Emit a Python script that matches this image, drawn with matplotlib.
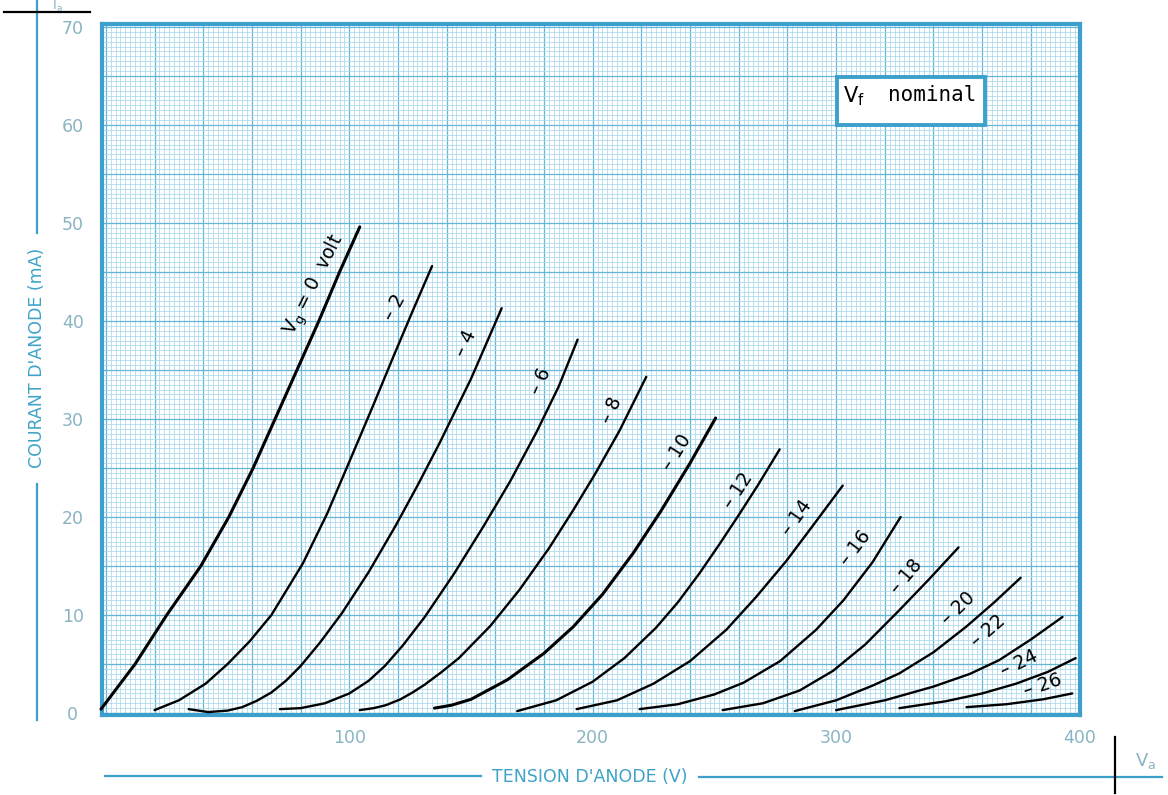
import matplotlib
matplotlib.use("Agg")
import matplotlib.pyplot as plt
from matplotlib.lines import Line2D
from matplotlib.patches import Rectangle
from matplotlib.ticker import MultipleLocator, FuncFormatter

# ---- anode characteristics: anode voltage (V) / anode current (mA) ----
grid_bias = [0, -2, -4, -6, -8, -10, -12, -14, -16, -18, -20, -22, -24, -26]

v_g0 = [-2, 12, 25, 39, 50.5, 60.5, 69.5, 78.5, 87.5, 96, 104.3]
i_g0 = [0.4, 5, 10, 15, 20, 25, 30, 35, 40, 45, 49.6]

v_g2 = [20, 30, 41, 50, 59, 68, 81, 91, 102, 110, 118, 126, 134]
i_g2 = [0.3, 1.3, 3, 5, 7.3, 10, 15.3, 20.4, 26.8, 31.5, 36.3, 41, 45.6]

v_g4 = [34, 42, 50, 56, 62, 68, 74, 80, 88, 97, 108, 119, 128, 137, 150, 162.6]
i_g4 = [0.4, 0.1, 0.25, 0.6, 1.25, 2.1, 3.3, 4.8, 7.2, 10.2, 14.4, 19.1, 23.2, 27.5, 34.1, 41.3]

v_g6 = [71.5, 80, 90, 100, 108, 114.6, 122, 131, 143, 155, 166, 177, 186, 193.8]
i_g6 = [0.4, 0.5, 1.0, 2.0, 3.3, 4.8, 6.9, 9.8, 14.2, 19, 23.6, 28.7, 33.3, 38.1]

v_g8 = [104.3, 110, 115, 121, 126, 131, 138, 145, 158, 170, 182, 192, 201, 211, 222]
i_g8 = [0.3, 0.5, 0.8, 1.4, 2.1, 2.9, 4.2, 5.6, 8.9, 12.6, 16.8, 20.7, 24.4, 28.8, 34.3]

v_g10 = [135, 142, 150, 165, 180, 192, 204, 216.6, 228, 240, 250.5]
i_g10 = [0.5, 0.8, 1.4, 3.4, 6.1, 8.8, 12.1, 16.3, 20.6, 25.5, 30.1]

v_g12 = [169, 185, 200, 213, 226, 235, 244, 252, 260, 268, 276.8]
i_g12 = [0.2, 1.3, 3.2, 5.6, 8.7, 11.3, 14.3, 17.2, 20.2, 23.3, 26.9]

v_g14 = [193.4, 210, 225, 240, 254.9, 267, 279.5, 291, 302.7]
i_g14 = [0.4, 1.3, 3, 5.3, 8.5, 11.8, 15.5, 19.3, 23.2]

v_g16 = [219.3, 235, 250, 262, 277, 291.8, 303, 315, 326.5]
i_g16 = [0.4, 0.9, 1.9, 3.1, 5.3, 8.5, 11.5, 15.4, 20]

v_g18 = [253.4, 270, 285, 298.7, 312, 326, 338, 350.3]
i_g18 = [0.3, 1.0, 2.3, 4.3, 7.0, 10.5, 13.6, 16.9]

v_g20 = [283, 300, 315, 326, 340, 353.4, 365, 375.8]
i_g20 = [0.2, 1.3, 2.8, 4.05, 6.2, 8.8, 11.3, 13.8]

v_g22 = [300, 320, 340, 355, 367, 380, 393]
i_g22 = [0.3, 1.3, 2.7, 4, 5.4, 7.5, 9.8]

v_g24 = [326, 345, 360, 374, 387, 398.4]
i_g24 = [0.5, 1.2, 2.0, 3.0, 4.2, 5.6]

v_g26 = [353.6, 370, 385, 397]
i_g26 = [0.6, 0.9, 1.4, 2.0]

curve_labels = ["V$_{\\mathrm{g}}$ = 0  volt", "\u2013 2", "\u2013 4", "\u2013 6", "\u2013 8",
                "\u2013 10", "\u2013 12", "\u2013 14", "\u2013 16", "\u2013 18",
                "\u2013 20", "\u2013 22", "\u2013 24", "\u2013 26"]

x_tick_labels = ["100", "200", "300", "400"]
y_tick_labels = ["0", "10", "20", "30", "40", "50", "60", "70"]

curves = [(v_g0, i_g0), (v_g2, i_g2), (v_g4, i_g4), (v_g6, i_g6), (v_g8, i_g8),
          (v_g10, i_g10), (v_g12, i_g12), (v_g14, i_g14), (v_g16, i_g16),
          (v_g18, i_g18), (v_g20, i_g20), (v_g22, i_g22), (v_g24, i_g24),
          (v_g26, i_g26)]

# ---- styling ----
W, H = 1168, 795
FRAME = "#3d9fcb"
GRID_MAJOR = "#62b6d8"
GRID_MINOR = "#a9d9ea"
TICK_TXT = "#8ab4c2"
TITLE_TXT = "#3fa3c9"


def fx(px):
    return px / W


def fy(py):
    return 1 - py / H


fig = plt.figure(figsize=(W / 100, H / 100), dpi=100)
fig.patch.set_facecolor("white")
ax = fig.add_axes([fx(102), fy(715), fx(1080) - fx(102), fy(24) - fy(715)])
ax.set_xlim(-1.6, 400.2)
ax.set_ylim(-0.2, 70.3)

# graph paper
ax.xaxis.set_major_locator(MultipleLocator(20))
ax.xaxis.set_minor_locator(MultipleLocator(2))
ax.yaxis.set_major_locator(MultipleLocator(5))
ax.yaxis.set_minor_locator(MultipleLocator(0.5))
ax.grid(which="minor", color=GRID_MINOR, lw=0.55, zorder=0)
ax.grid(which="major", color=GRID_MAJOR, lw=0.9, zorder=0)
ax.set_axisbelow(True)

shown_x = {int(t): t for t in x_tick_labels}
shown_y = {int(t): t for t in y_tick_labels}
ax.xaxis.set_major_formatter(FuncFormatter(lambda v, p: shown_x.get(int(round(v)), "") if abs(v - round(v)) < 1e-6 else ""))
ax.yaxis.set_major_formatter(FuncFormatter(lambda v, p: shown_y.get(int(round(v)), "") if abs(v - round(v)) < 1e-6 else ""))
ax.tick_params(which="both", length=0)
ax.tick_params(axis="x", pad=10, labelsize=12.5, labelcolor=TICK_TXT)
ax.tick_params(axis="y", pad=21, labelsize=12.5, labelcolor=TICK_TXT)
for lab in ax.get_yticklabels():
    lab.set_horizontalalignment("center")

for s in ax.spines.values():
    s.set_color(FRAME)
    s.set_linewidth(3)

# characteristic curves
for k, (v, i) in enumerate(curves):
    lw = 2.2 if grid_bias[k] in (0, -10) else 1.7
    ax.plot(v, i, color="black", lw=lw, solid_capstyle="round",
            solid_joinstyle="round", zorder=3, clip_on=False)

# curve labels (centre in data units, rotation in degrees)
label_place = [(85.8, 43.7, 63), (118.7, 41.4, 62), (147.8, 37.7, 65), (178.6, 33.8, 66),
               (207.8, 30.9, 66), (234.5, 26.6, 58), (259.5, 22.7, 57), (283.8, 19.9, 55),
               (308.0, 16.8, 53), (329.0, 13.9, 50), (350.3, 10.7, 44), (362.6, 8.4, 41),
               (375.4, 5.1, 26), (384.8, 2.8, 19)]
for txt, (x, y, rot) in zip(curve_labels, label_place):
    ax.text(x, y, txt, rotation=rot, rotation_mode="anchor", ha="center", va="center",
            fontsize=13.5, color="black", zorder=4)

# filament note box
ax.add_patch(Rectangle((fx(837), fy(125)), fx(985) - fx(837), fy(77) - fy(125),
                       transform=fig.transFigure, facecolor="white", edgecolor=FRAME,
                       lw=2.8, zorder=5))
fig.text(fx(843), fy(102), "V$_{\\mathrm{f}}$", fontsize=15, va="baseline", ha="left",
         zorder=6, color="black")
fig.text(fx(888), fy(101), "nominal", fontsize=15, va="baseline", ha="left",
         family="DejaVu Sans Mono", zorder=6, color="black")

# outer axis annotations
fig.add_artist(Line2D([fx(37), fx(37)], [fy(0), fy(233)], color=FRAME, lw=1.6))
fig.add_artist(Line2D([fx(37), fx(37)], [fy(484), fy(720)], color=FRAME, lw=1.6))
fig.text(fx(37), fy(358), "COURANT D'ANODE (mA)", rotation=90, ha="center", va="center",
         fontsize=12.5, color=TITLE_TXT)
fig.add_artist(Line2D([fx(4), fx(90)], [fy(12), fy(12)], color="black", lw=1.6))
fig.text(fx(52), fy(9.5), "I$_{\\mathrm{a}}$", fontsize=9.5, ha="left", va="baseline", color=TICK_TXT)

fig.add_artist(Line2D([fx(105), fx(481)], [fy(776), fy(776)], color=FRAME, lw=1.6))
fig.add_artist(Line2D([fx(699), fx(1162)], [fy(777), fy(777)], color=FRAME, lw=1.6))
fig.text(fx(590), fy(777), "TENSION D'ANODE (V)", ha="center", va="center",
         fontsize=12.5, color=TITLE_TXT)
fig.add_artist(Line2D([fx(1115), fx(1115)], [fy(737), fy(793)], color="black", lw=1.6))
fig.text(fx(1135), fy(766), "V$_{\\mathrm{a}}$", fontsize=13, ha="left", va="baseline", color=TICK_TXT)

fig.savefig("out.png", dpi=100, facecolor="white")
